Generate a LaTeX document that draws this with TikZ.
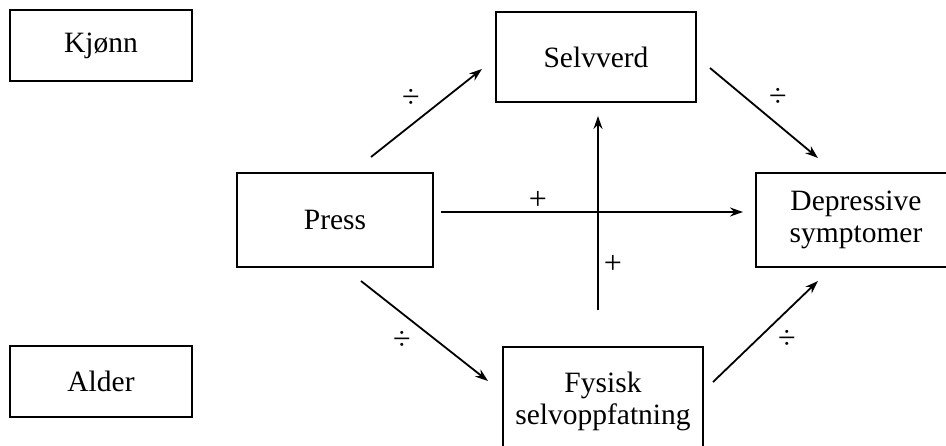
\documentclass[tikz,border=0pt]{standalone}
\usepackage{fontspec}
\setmainfont{Liberation Serif}
\usetikzlibrary{arrows.meta}
\begin{document}
\begin{tikzpicture}[x=1pt,y=-1pt,
  box/.style={draw, line width=2.8pt, inner sep=0pt, align=center,
    font=\fontsize{29.5}{32}\selectfont},
  conn/.style={line width=1.8pt, -{Stealth[length=13pt,width=9pt]}},
  sign/.style={inner sep=0pt, font=\fontsize{32}{32}\selectfont}]
\useasboundingbox (0,0) rectangle (946,445);
\clip (0,0) rectangle (946,445);
\node[box, minimum width=182pt, minimum height=71pt] (kjonn) at (101,45.5) {Kjønn};
\node[box, minimum width=182pt, minimum height=71pt] (alder) at (101,381.5) {Alder};
\node[box, minimum width=200pt, minimum height=90pt] (selvverd) at (596,57) {Selvverd};
\node[box, minimum width=196pt, minimum height=94pt] (press) at (335,220) {Press};
\node[box, minimum width=200pt, minimum height=94pt] (depr) at (856,220) {Depressive\\symptomer};
\node[box, minimum width=200pt, minimum height=108pt] (fysisk) at (603,401) {Fysisk\\selvoppfatning};
% connector ends
\coordinate (a1) at (371,157); \coordinate (a2) at (482,69);
\coordinate (b1) at (710,68);  \coordinate (b2) at (818,158);
\coordinate (c1) at (441,212); \coordinate (c2) at (743,212);
\coordinate (d1) at (598,310); \coordinate (d2) at (598,116);
\coordinate (e1) at (361,281); \coordinate (e2) at (488,381);
\coordinate (f1) at (713,382); \coordinate (f2) at (818,281);
\draw[conn] (a1) -- (a2);
\draw[conn] (b1) -- (b2);
\draw[conn] (c1) -- (c2);
\draw[conn] (d1) -- (d2);
\draw[conn] (e1) -- (e2);
\draw[conn] (f1) -- (f2);
% labels
\node[sign] (la) at (411,98) {÷};
\node[sign] (lb) at (778,97) {÷};
\node[sign] (lc) at (538,200) {+};
\node[sign] (ld) at (613,264) {+};
\node[sign] (le) at (402,340) {÷};
\node[sign] (lf) at (787,339) {÷};
\end{tikzpicture}
\end{document}
